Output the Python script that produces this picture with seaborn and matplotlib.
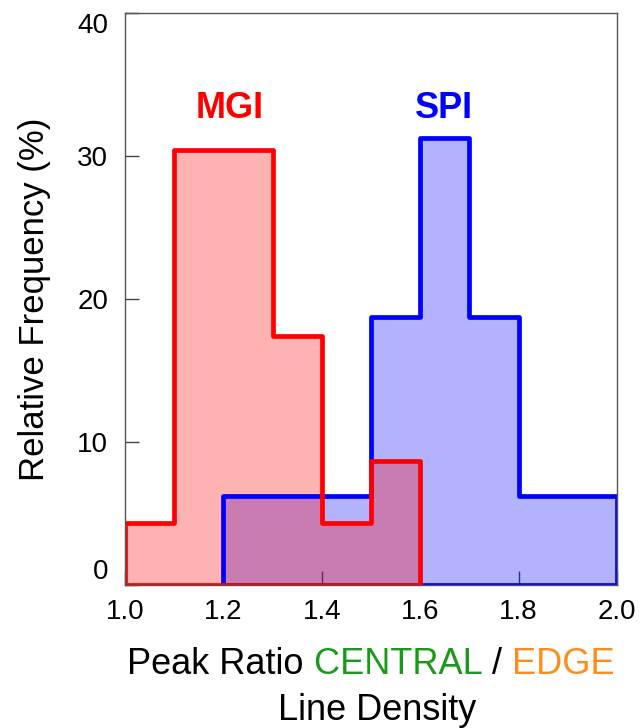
import numpy as np
import pandas as pd
import matplotlib
matplotlib.use("Agg")
import matplotlib.pyplot as plt
import seaborn as sns

# histogram data (percent per 0.1 bin)
mgi_edges = [1.0, 1.1, 1.2, 1.3, 1.4, 1.5, 1.6]
mgi_pct = [4.35, 30.43, 30.43, 17.39, 4.35, 8.70]
spi_edges = [1.2, 1.3, 1.4, 1.5, 1.6, 1.7, 1.8, 1.9, 2.0]
spi_pct = [6.25, 6.25, 6.25, 18.75, 31.25, 18.75, 6.25, 6.25]

x_ticks = [1.0, 1.2, 1.4, 1.6, 1.8, 2.0]
y_ticks = [0, 10, 20, 30, 40]

sns.set_theme(style="white")
plt.rcParams["font.family"] = ["Liberation Sans", "DejaVu Sans"]

mgi = pd.DataFrame({
    "ratio": [(a + b) / 2 for a, b in zip(mgi_edges[:-1], mgi_edges[1:])],
    "pct": mgi_pct})
spi = pd.DataFrame({
    "ratio": [(a + b) / 2 for a, b in zip(spi_edges[:-1], spi_edges[1:])],
    "pct": spi_pct})

fig = plt.figure(figsize=(6.42, 7.28), dpi=100)
ax = fig.add_axes([0.1947, 0.1964, 0.7663, 0.7857])

# fills first
sns.histplot(data=spi, x="ratio", weights="pct", bins=spi_edges,
             element="step", fill=True, color="blue", alpha=0.3,
             linewidth=0, ax=ax)
sns.histplot(data=mgi, x="ratio", weights="pct", bins=mgi_edges,
             element="step", fill=True, color="red", alpha=0.3,
             linewidth=0, ax=ax)
# then outlines
sns.histplot(data=spi, x="ratio", weights="pct", bins=spi_edges,
             element="step", fill=True, color="blue", facecolor="none",
             edgecolor="blue", linewidth=3.4, ax=ax)
sns.histplot(data=mgi, x="ratio", weights="pct", bins=mgi_edges,
             element="step", fill=True, color="red", facecolor="none",
             edgecolor="red", linewidth=3.4, ax=ax)

ax.set_xlim(1.0, 2.0)
ax.set_ylim(0, 40)
ax.set_xticks(x_ticks)
ax.set_xticklabels([f"{t:.1f}" for t in x_ticks])
ax.set_yticks(y_ticks)
ax.set_yticklabels([str(t) for t in y_ticks])
ax.tick_params(direction="in", length=10, width=1, color="#444444",
               labelsize=20, labelcolor="black", left=True, bottom=True,
               top=False, right=False)
ax.tick_params(axis="x", pad=10)
ax.tick_params(axis="y", pad=12)
labs = ax.get_yticklabels()
labs[0].set_va("bottom")
labs[-1].set_va("top")
for s in ax.spines.values():
    s.set_color("#555555")
    s.set_linewidth(1)

ax.set_xlabel("")
ax.set_ylabel("Relative Frequency (%)", fontsize=25, color="black")
ax.yaxis.set_label_coords(-0.15, 0.5)

ax.text(1.213, 33.3, "MGI", color="red", fontsize=26, fontweight="bold",
        ha="center", va="center")
ax.text(1.648, 33.3, "SPI", color="blue", fontsize=26, fontweight="bold",
        ha="center", va="center")

# two-coloured x label
t1 = fig.text(127 / 642, 1 - 665 / 728, "Peak Ratio", fontsize=26,
              color="black", ha="left", va="center")
t2 = ax.annotate(" CENTRAL", xy=(1, 0), xycoords=t1, fontsize=26,
                 color="#1a9a1a", ha="left", va="bottom")
t3 = ax.annotate(" /", xy=(1, 0), xycoords=t2, fontsize=26,
                 color="black", ha="left", va="bottom")
t4 = ax.annotate(" EDGE", xy=(1, 0), xycoords=t3, fontsize=26,
                 color="#ff8c1a", ha="left", va="bottom")
fig.text(377 / 642, 1 - 710 / 728, "Line Density", fontsize=26,
         color="black", ha="center", va="center")

fig.savefig("out.png", dpi=100)
